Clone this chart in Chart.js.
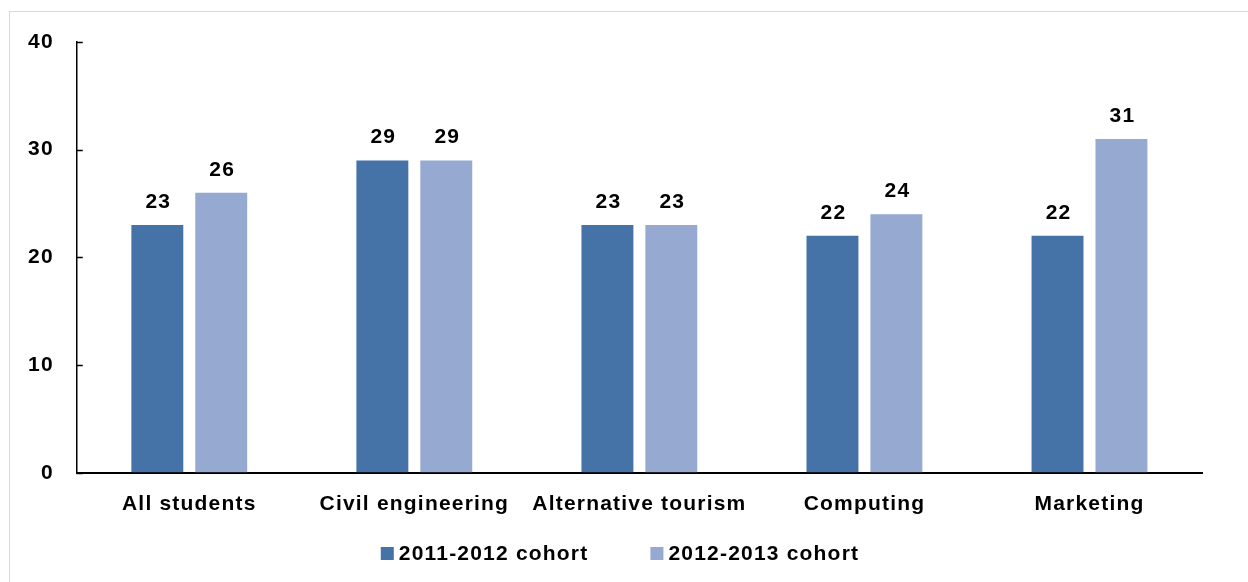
<!DOCTYPE html>
<html>
<head>
<meta charset="utf-8">
<script src="https://cdn.jsdelivr.net/npm/chart.js@4.4.0/dist/chart.umd.min.js"></script>
<style>
  html, body { margin: 0; padding: 0; background: #fff; overflow: hidden; }
  #frame {
    position: absolute; left: 9px; top: 11px; width: 1260px; height: 600px;
    border: 1px solid #d9d9d9; box-sizing: border-box;
  }
  #chart { position: absolute; left: 0; top: 0; }
</style>
</head>
<body>
<div id="frame"></div>
<canvas id="chart" width="1248" height="582"></canvas>
<script>
const categories = ["All students", "Civil engineering", "Alternative tourism", "Computing", "Marketing"];
const cohort1 = [23, 29, 23, 22, 22];
const cohort2 = [26, 29, 23, 24, 31];
const seriesNames = ["2011-2012 cohort", "2012-2013 cohort"];
const seriesColors = ['#4572a7', '#95a9d1'];
const yTicks = [0, 10, 20, 30, 40];

const FONT = "'Liberation Sans', Arial, sans-serif";
const boldFont = { family: FONT, size: 21, weight: 'bold' };
const SPACING = '1.2px';

// wide letter spacing for all chart text, set again after each canvas reset
const spacing = {
    id: 'spacing',
    beforeUpdate(chart) { chart.ctx.letterSpacing = SPACING; },
    beforeLayout(chart) { chart.ctx.letterSpacing = SPACING; },
    beforeDraw(chart) { chart.ctx.letterSpacing = SPACING; }
};

// inward tick marks on the value axis, value labels on bars, legend row
const extras = {
    id: 'extras',
    afterDraw(chart) {
        const ctx = chart.ctx;
        const y = chart.scales.y;
        const area = chart.chartArea;
        ctx.save();
        ctx.strokeStyle = '#000';
        ctx.lineWidth = 1.5;
        yTicks.forEach(v => {
            const py = Math.round(y.getPixelForValue(v)) + 0.5;
            ctx.beginPath();
            ctx.moveTo(area.left, py);
            ctx.lineTo(area.left + 6, py);
            ctx.stroke();
        });

        ctx.letterSpacing = SPACING;
        ctx.font = 'bold 21px ' + FONT;
        ctx.fillStyle = '#000';
        ctx.textAlign = 'center';
        ctx.textBaseline = 'alphabetic';
        chart.data.datasets.forEach((ds, i) => {
            chart.getDatasetMeta(i).data.forEach((bar, j) => {
                ctx.fillText(ds.data[j], bar.x + 1, bar.y - 17);
            });
        });

        // legend
        const box = 13, gapText = 5, gapItem = 62;
        const widths = seriesNames.map(s => ctx.measureText(s).width);
        let total = 0;
        widths.forEach((w, i) => { total += box + gapText + w + (i < widths.length - 1 ? gapItem : 0); });
        let x = chart.width / 2 - total / 2 - 4;
        const top = 547;
        ctx.textAlign = 'left';
        seriesNames.forEach((s, i) => {
            ctx.fillStyle = seriesColors[i];
            ctx.fillRect(x, top, box, box);
            ctx.fillStyle = '#000';
            ctx.fillText(s, x + box + gapText, top + box);
            x += box + gapText + widths[i] + gapItem;
        });
        ctx.restore();
    }
};

new Chart(document.getElementById('chart'), {
    type: 'bar',
    data: {
        labels: categories,
        datasets: [
            { label: seriesNames[0], data: cohort1, backgroundColor: seriesColors[0] },
            { label: seriesNames[1], data: cohort2, backgroundColor: seriesColors[1] }
        ]
    },
    options: {
        responsive: false,
        animation: false,
        categoryPercentage: 0.568,
        barPercentage: 0.8125,
        layout: { padding: { left: 5, right: 46, top: 42, bottom: 54 } },
        plugins: {
            tooltip: { enabled: false },
            legend: { display: false }
        },
        scales: {
            x: {
                grid: { display: false },
                border: { display: true, color: '#000', width: 2 },
                ticks: { color: '#000', font: boldFont, padding: 11, maxRotation: 0 }
            },
            y: {
                min: 0,
                max: 40,
                afterBuildTicks(axis) { axis.ticks = yTicks.map(v => ({ value: v })); },
                grid: { drawOnChartArea: false, drawTicks: false },
                border: { display: true, color: '#000', width: 1.5 },
                ticks: { color: '#000', font: boldFont, padding: 23 }
            }
        }
    },
    plugins: [spacing, extras]
});
</script>
</body>
</html>
